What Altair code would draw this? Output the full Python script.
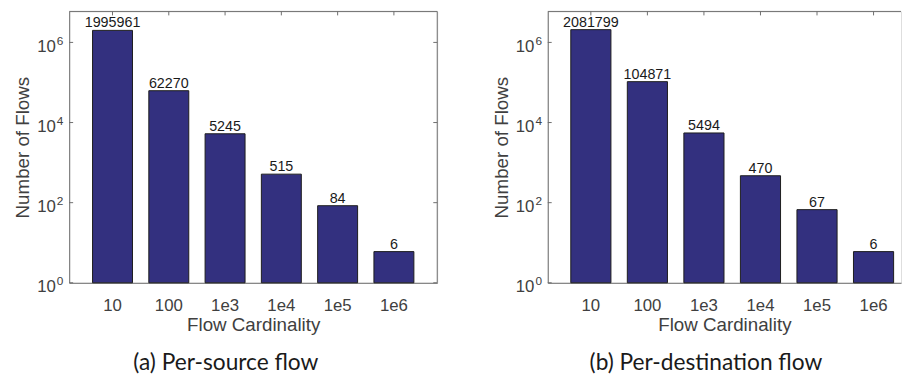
import altair as alt
import pandas as pd

categories = ["10", "100", "1e3", "1e4", "1e5", "1e6"]
source_counts = [1995961, 62270, 5245, 515, 84, 6]
dest_counts = [2081799, 104871, 5494, 470, 67, 6]
y_ticks = [1, 100, 10000, 1000000]
captions = ["(a) Per-source flow", "(b) Per-destination flow"]

BAR = "#33307f"
AX = "#404040"
SPINE = "#6e6e6e"
FONT = "Liberation Sans"
H = 275
Y_MAX = 5.93e6


def panel(counts, caption, width, pad_outer, align, right_spine, title_dx):
    df = pd.DataFrame({"card": categories, "n": counts, "base": [1] * len(counts)})
    tk = pd.DataFrame({"n": y_ticks})
    one = pd.DataFrame({"k": [0]})
    x_scale = alt.Scale(domain=categories, paddingInner=0.29, paddingOuter=pad_outer,
                        align=align, round=False)
    y_scale = alt.Scale(type="log", domain=[1, Y_MAX], nice=False)
    x_axis = alt.Axis(title="Flow Cardinality", labelAngle=0, ticks=False, domain=True,
                      domainColor=SPINE, labelFont=FONT, labelFontSize=17, labelColor=AX,
                      labelPadding=15, titleFont=FONT, titleFontSize=19,
                      titleFontWeight="normal", titleColor=AX, titlePadding=2, grid=False)
    y_axis = alt.Axis(title="Number of Flows", values=y_ticks, labelExpr="'10'",
                      ticks=False, domain=True, domainColor=SPINE, labelFont=FONT,
                      labelFontSize=17, labelColor=AX, labelPadding=14, labelOffset=4,
                      titleFont=FONT, titleFontSize=19, titleFontWeight="normal",
                      titleColor=AX, titlePadding=4, grid=False)
    X = alt.X("card:N", scale=x_scale, sort=categories, axis=x_axis)
    Y = alt.Y("n:Q", scale=y_scale, axis=y_axis)

    bars = alt.Chart(df).mark_bar(color=BAR, stroke="#1c1c1c", strokeWidth=1).encode(
        x=X, y=Y, y2="base:Q")
    labels = alt.Chart(df).mark_text(baseline="alphabetic", dy=-3, fontSize=14.5, font=FONT,
                                     color="#1a1a1a").encode(
        x=X, y=Y, text=alt.Text("n:Q", format="d"))
    exps = alt.Chart(tk).transform_calculate(
        e="round(log(datum.n)/LN10)"
    ).mark_text(align="left", baseline="middle", fontSize=12, font=FONT, color=AX,
                dy=-1.5).encode(y=Y, x=alt.value(-12.5), text=alt.Text("e:Q", format="d"))
    left_ticks = alt.Chart(tk).mark_rule(color=SPINE).encode(
        y=Y, x=alt.value(0), x2=alt.value(4))
    top_ticks = alt.Chart(df).mark_rule(color=SPINE).encode(
        x=X, y=alt.value(0), y2=alt.value(4))
    top_spine = alt.Chart(one).mark_rule(color=SPINE).encode(
        x=alt.value(0), x2=alt.value(width), y=alt.value(0))
    layers = [bars, labels, exps, left_ticks, top_ticks, top_spine]
    if right_spine:
        layers.append(alt.Chart(one).mark_rule(color=SPINE).encode(
            x=alt.value(width), y=alt.value(0), y2=alt.value(H)))
        layers.append(alt.Chart(tk).mark_rule(color=SPINE).encode(
            y=Y, x=alt.value(width - 4), x2=alt.value(width)))
    return alt.layer(*layers).properties(
        width=width, height=H,
        title=alt.TitleParams(text=caption, orient="bottom", anchor="middle", frame="bounds",
                              font="Lato", fontSize=23, fontWeight="normal", color="#1a1a1a",
                              offset=18, dx=title_dx))


left = panel(source_counts, captions[0], 373, 0.415, 0.5, True, 0)
right = panel(dest_counts, captions[1], 358, 0.269, 0.757, False, 9)

chart = alt.hconcat(left, right, spacing=54).properties(
    padding={"left": 5, "top": 0, "right": 0, "bottom": 0}
).configure_view(stroke=None).configure(background="white")

chart.save("out.html", embed_options={"renderer": "svg", "actions": False})
